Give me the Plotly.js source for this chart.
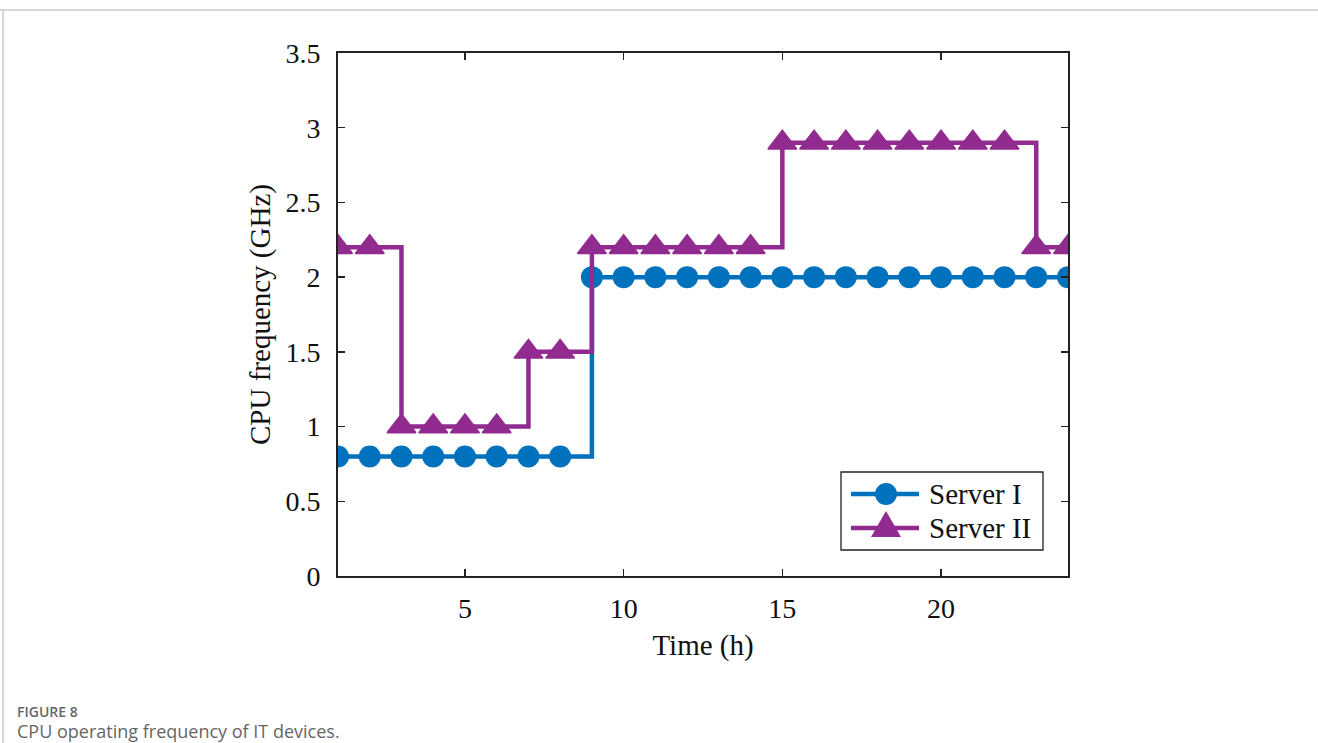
<!DOCTYPE html>
<html>
<head>
<meta charset="utf-8">
<script src="https://cdn.plot.ly/plotly-3.0.1.min.js"></script>
<style>
html,body{margin:0;padding:0;background:#fff;}
#chart{width:1318px;height:743px;}
</style>
</head>
<body>
<div id="chart"></div>
<script>
const hours = [1,2,3,4,5,6,7,8,9,10,11,12,13,14,15,16,17,18,19,20,21,22,23,24];
const serverI = [0.8,0.8,0.8,0.8,0.8,0.8,0.8,0.8,2,2,2,2,2,2,2,2,2,2,2,2,2,2,2,2];
const serverII = [2.2,2.2,1,1,1,1,1.5,1.5,2.2,2.2,2.2,2.2,2.2,2.2,2.9,2.9,2.9,2.9,2.9,2.9,2.9,2.9,2.2,2.2];
const seriesNames = ['Server I', 'Server II'];
const xTicks = [5,10,15,20];
const yTicks = [0,0.5,1,1.5,2,2.5,3,3.5];
const yTickLabels = ['0','0.5','1','1.5','2','2.5','3','3.5'];

const blue = '#0072BD';
const purple = '#912B8F';
const serif = '"Liberation Serif", "Times New Roman", serif';
const sans = '"Open Sans", "Noto Sans", sans-serif';

// plot area geometry (pixels)
const L = 338, T = 53, W = 730, H = 523;
const px = x => (x - L) / W;
const py = y => (T + H - y) / H;

const traces = [
  {x: hours, y: serverI, name: seriesNames[0], mode: 'lines+markers', line: {shape: 'hv', color: blue, width: 4.5},
   marker: {symbol: 'circle', size: 22, color: blue}},
  {x: hours, y: serverII, name: seriesNames[1], mode: 'lines+markers', line: {shape: 'hv', color: purple, width: 4.5},
   marker: {symbol: 'triangle-up', size: 25, color: purple, line: {color: purple, width: 1.5}}}
];

// custom legend (matches MATLAB-style legend with long line samples)
const legendShapes = [
  {type: 'rect', xref: 'paper', yref: 'paper', x0: px(841), x1: px(1043), y0: py(550), y1: py(472),
   line: {color: '#222', width: 1.3}, fillcolor: '#fff', layer: 'above'},
  {type: 'line', xref: 'paper', yref: 'paper', x0: px(851), x1: px(919), y0: py(494), y1: py(494),
   line: {color: blue, width: 4.5}, layer: 'above'},
  {type: 'circle', xref: 'paper', yref: 'paper', x0: px(875), x1: px(897), y0: py(505), y1: py(483),
   line: {color: blue, width: 0}, fillcolor: blue, layer: 'above'},
  {type: 'line', xref: 'paper', yref: 'paper', x0: px(851), x1: px(919), y0: py(528), y1: py(528),
   line: {color: purple, width: 4.5}, layer: 'above'},
  {type: 'path', xref: 'paper', yref: 'paper', layer: 'above',
   path: `M${px(871)},${py(537)} L${px(901)},${py(537)} L${px(886)},${py(511)} Z`,
   line: {color: purple, width: 0}, fillcolor: purple}
];

const layout = {
  width: 1318, height: 743,
  margin: {l: L, r: 1318 - L - W, t: T, b: 743 - T - H},
  paper_bgcolor: '#fff', plot_bgcolor: '#fff',
  font: {family: serif, color: '#111', size: 28},
  showlegend: false,
  xaxis: {range: [1, 24], tickvals: xTicks, ticktext: xTicks.map(String), ticks: 'inside', ticklen: 7, tickwidth: 1.5,
          tickcolor: '#222', showline: true, linecolor: '#222', linewidth: 2, mirror: 'allticks', showgrid: false,
          zeroline: false, tickfont: {size: 28}, ticklabelstandoff: 6,
          title: {text: 'Time (h)', font: {size: 29}, standoff: 12}},
  yaxis: {range: [0, 3.5], tickvals: yTicks, ticktext: yTickLabels, ticks: 'inside', ticklen: 7, tickwidth: 1.5,
          tickcolor: '#222', showline: true, linecolor: '#222', linewidth: 2, mirror: 'allticks', showgrid: false,
          zeroline: false, tickfont: {size: 28}, ticklabelstandoff: 10,
          title: {text: 'CPU frequency (GHz)', font: {size: 29}, standoff: 6}},
  shapes: [
    {type: 'line', xref: 'paper', yref: 'paper', x0: px(0), x1: px(1318), y0: py(10), y1: py(10),
     line: {color: '#c8c8c8', width: 1.5}},
    {type: 'line', xref: 'paper', yref: 'paper', x0: px(3), x1: px(3), y0: py(10), y1: py(743),
     line: {color: '#c8c8c8', width: 1.5}}
  ].concat(legendShapes),
  annotations: [
    {xref: 'paper', yref: 'paper', x: px(927), y: py(494), xanchor: 'left', yanchor: 'middle', showarrow: false,
     text: seriesNames[0], font: {family: serif, size: 29, color: '#111'}},
    {xref: 'paper', yref: 'paper', x: px(927), y: py(528), xanchor: 'left', yanchor: 'middle', showarrow: false,
     text: seriesNames[1], font: {family: serif, size: 29, color: '#111'}},
    {xref: 'paper', yref: 'paper', x: px(15), y: py(711), xanchor: 'left', yanchor: 'middle', showarrow: false,
     text: 'FIGURE 8', font: {family: sans, size: 14, weight: 600, color: '#666'}},
    {xref: 'paper', yref: 'paper', x: px(15), y: py(731), xanchor: 'left', yanchor: 'middle', showarrow: false,
     text: 'CPU operating frequency of IT devices.', font: {family: sans, size: 18, color: '#666'}}
  ]
};

Plotly.newPlot('chart', traces, layout, {displayModeBar: false, staticPlot: true});
</script>
</body>
</html>
